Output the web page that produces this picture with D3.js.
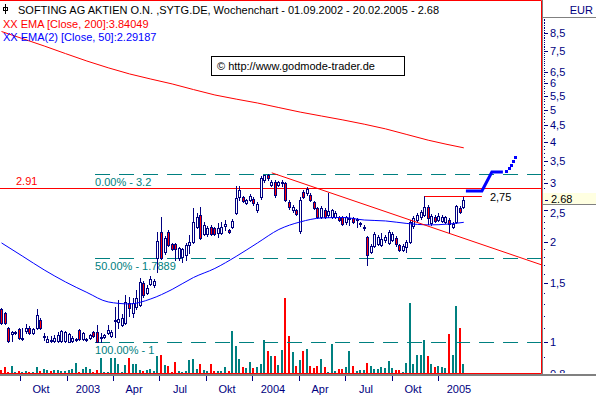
<!DOCTYPE html>
<html>
<head>
<meta charset="utf-8">
<script src="https://cdn.jsdelivr.net/npm/d3@7"></script>
<style>
  body { margin: 0; background: #fff; }
  svg { display: block; font-family: "Liberation Sans", Arial, sans-serif; font-size: 11px; }
</style>
</head>
<body>
<svg id="chart" width="596" height="397"></svg>
<script>
// weekly candles, first week ends 25.08.2002
const firstWeek = new Date(2002, 7, 25)

const opens = [1.258,1.223,1.102,1.057,1.065,1.094,1.021,1.080,1.102,1.065,
  1.102,1.165,1.035,1.000,1.014,1.007,1.007,1.007,1.007,1.000,
  1.007,1.014,1.087,1.021,1.014,1.028,1.072,1.072,1.028,1.035,
  1.065,1.043,1.157,1.149,1.125,1.141,1.311,1.223,1.275,1.293,
  1.506,1.406,1.496,1.485,1.791,2.144,1.867,2.144,1.973,1.973,
  1.791,1.803,1.829,1.960,2.001,2.220,2.412,2.114,2.114,2.220,
  2.204,2.129,2.129,2.235,2.174,2.220,2.445,2.731,2.731,2.620,
  2.675,2.694,2.497,2.731,3.073,3.181,2.968,3.030,2.968,3.009,
  3.009,2.638,2.497,2.497,2.159,2.827,2.808,2.769,2.638,2.531,
  2.379,2.497,2.412,2.379,2.379,2.379,2.379,2.298,2.346,2.362,
  2.329,2.266,2.204,2.071,1.867,1.946,1.973,1.960,2.028,1.987,
  2.028,2.057,1.960,1.893,1.933,2.001,2.235,2.329,2.379,2.412,
  2.549,2.282,2.379,2.329,2.314,2.298,2.329,2.220,2.298,2.531,
  2.549]
const highs = [1.267,1.232,1.110,1.080,1.080,1.102,1.102,1.133,1.118,1.102,
  1.258,1.181,1.065,1.043,1.043,1.050,1.072,1.087,1.080,1.065,
  1.043,1.028,1.094,1.072,1.028,1.057,1.080,1.125,1.065,1.057,
  1.125,1.087,1.275,1.339,1.215,1.386,1.367,1.357,1.435,1.559,
  1.527,1.485,1.581,1.548,2.144,2.379,2.085,2.174,1.987,1.987,
  1.933,1.919,1.987,2.100,2.531,2.445,2.549,2.298,2.235,2.251,
  2.220,2.282,2.298,2.329,2.189,2.346,2.948,2.948,2.750,2.694,
  2.789,2.731,2.638,3.159,3.180,3.200,3.073,3.073,3.051,3.073,
  3.030,2.675,2.584,2.514,2.731,2.867,2.927,2.808,2.656,2.549,
  2.566,2.531,2.808,2.514,2.479,2.395,2.395,2.395,2.445,2.379,
  2.362,2.298,2.251,2.085,1.973,2.144,2.100,2.129,2.100,2.174,
  2.144,2.085,1.973,1.973,2.028,2.329,2.395,2.445,2.497,2.750,
  2.584,2.428,2.412,2.445,2.412,2.395,2.362,2.298,2.584,2.566,
  2.731]
const lows = [1.133,1.133,1.000,1.007,1.057,1.021,1.014,1.065,1.057,1.057,
  1.094,1.094,1.014,1.000,1.000,1.000,1.000,1.000,1.000,1.000,
  1.000,1.007,1.014,1.014,1.007,1.021,1.035,1.000,1.000,1.028,
  1.057,1.035,1.035,1.102,1.118,1.133,1.198,1.190,1.258,1.284,
  1.367,1.396,1.485,1.465,1.625,1.779,1.841,1.946,1.893,1.766,
  1.766,1.742,1.766,1.854,1.987,2.204,2.042,2.100,2.085,2.100,
  2.100,2.071,2.114,2.174,2.129,2.204,2.428,2.675,2.638,2.602,
  2.656,2.584,2.462,2.694,3.030,3.073,2.948,2.731,2.948,2.948,
  2.656,2.514,2.462,2.412,2.129,2.713,2.769,2.656,2.514,2.362,
  2.362,2.362,2.379,2.362,2.362,2.314,2.251,2.266,2.251,2.282,
  2.220,2.235,2.174,1.706,1.854,1.933,1.960,1.946,2.001,1.973,
  2.015,1.946,1.880,1.880,1.867,1.987,2.204,2.298,2.346,2.395,
  2.266,2.251,2.298,2.314,2.298,2.282,2.129,2.204,2.282,2.445,
  2.531]
const closes = [1.141,1.141,1.007,1.072,1.072,1.028,1.028,1.102,1.065,1.094,
  1.206,1.102,1.043,1.021,1.007,1.028,1.050,1.080,1.072,1.057,
  1.028,1.021,1.021,1.065,1.021,1.050,1.043,1.000,1.035,1.050,
  1.087,1.072,1.165,1.173,1.181,1.320,1.267,1.311,1.357,1.516,
  1.386,1.455,1.548,1.527,2.015,1.791,2.057,1.960,1.906,1.906,
  1.919,1.906,1.960,2.001,2.298,2.379,2.057,2.251,2.204,2.114,
  2.114,2.204,2.220,2.266,2.144,2.314,2.713,2.867,2.656,2.675,
  2.750,2.620,2.602,3.115,3.181,3.115,3.030,2.769,3.030,3.030,
  2.675,2.549,2.549,2.428,2.675,2.731,2.887,2.675,2.531,2.379,
  2.531,2.379,2.479,2.497,2.445,2.329,2.266,2.379,2.362,2.298,
  2.346,2.282,2.220,1.829,1.946,2.114,2.071,2.042,2.071,2.144,
  2.114,1.973,1.893,1.946,2.001,2.298,2.362,2.412,2.462,2.549,
  2.362,2.395,2.314,2.395,2.379,2.379,2.266,2.266,2.566,2.462,
  2.680]
// volume in 1000 shares
const volumes = [27,60,10,67,10,20,10,20,10,10,
  60,20,43,33,20,27,27,20,20,27,
  43,100,10,43,60,43,10,27,153,10,
  10,153,153,93,10,77,153,93,93,27,
  20,27,43,20,167,177,77,67,10,110,
  20,10,20,133,143,43,93,33,20,93,
  20,20,20,60,20,420,270,140,60,50,
  110,50,60,90,330,220,170,170,80,230,
  750,370,210,70,130,220,240,70,50,70,
  140,60,10,290,20,40,40,60,220,70,
  20,30,30,100,70,40,40,60,50,120,
  50,30,30,10,100,700,90,180,180,330,
  170,90,60,70,60,50,390,180,670,450,
  90]

const ema200Weeks = [0, 12, 24, 36, 48, 60, 72, 84, 96, 108, 120, 130]
const ema200 = [8.60, 7.78, 7.01, 6.41, 5.98, 5.54, 5.24, 4.92, 4.66, 4.38, 4.05, 3.84049]
const ema50Weeks = [0, 6, 12, 18, 24, 30, 36, 42, 48, 54, 60, 66, 72, 78, 84, 90, 96, 102, 108, 114, 120, 126, 130]
const ema50 = [1.987, 1.81, 1.648, 1.516, 1.41, 1.32, 1.302, 1.348, 1.44, 1.564, 1.665, 1.81,
  1.987, 2.181, 2.298, 2.362, 2.37, 2.329, 2.314, 2.274, 2.251, 2.266, 2.29187]

const priceTicks = [0.8, 1, 1.5, 2, 2.5, 3, 3.5, 4, 4.5, 5, 5.5, 6, 6.5, 7.5, 8.5]
const monthNames = ['Jan', 'Feb', 'Mär', 'Apr', 'Mai', 'Jun', 'Jul', 'Aug', 'Sep', 'Okt', 'Nov', 'Dez']
const fibLabels = ['0.00% - 3.2', '50.00% - 1.7889', '100.00% - 1']
const fibValues = [3.2, 1.7889, 1]
const fibStartWeek = 26.3
const supportValue = 2.91
const lastPrice = 2.68
const trendWeeks = [76, 152]
const trendValues = [3.23, 1.705]
const highWeeks = [119, 135.1]
const highValue = 2.75
const projWeeks = [130.6, 135.1, 137.9, 141]
const projValues = [2.85, 2.85, 3.25, 3.25]
const dotWeeks = [142, 142.8, 143.3, 143.8, 144.4]
const dotValues = [3.26, 3.34, 3.42, 3.5, 3.6]

const navy = '#000080', teal = '#008080', red = '#ff0000', blue = '#0000ff'
const plotRight = 541, plotBottom = 373

const svg = d3.select('#chart')

const weekDate = i => new Date(+firstWeek + i * 7 * 864e5)
const x = d3.scaleTime()
  .domain([new Date(2002, 7, 22), new Date(2005, 6, 24)])
  .range([0, 542])
const xw = i => x(weekDate(i))
const y = d3.scaleLog().domain([0.8066, 10.7]).range([plotBottom, 0])
const yVol = d3.scaleLinear().domain([0, 800]).range([plotBottom, 293])
const crisp = v => Math.round(y(v)) + 0.5

const candles = opens.map((o, i) => ({ i, o, h: highs[i], l: lows[i], c: closes[i], v: volumes[i] }))

svg.append('defs').append('clipPath').attr('id', 'plotclip')
  .append('rect').attr('x', 0).attr('y', 0).attr('width', plotRight).attr('height', plotBottom)
svg.append('defs').append('clipPath').attr('id', 'axisclip')
  .append('rect').attr('x', 542).attr('y', 18).attr('width', 54).attr('height', 355)

let plot = svg.append('g').attr('clip-path', 'url(#plotclip)')

// volume
plot.append('g').selectAll('rect').data(candles).join('rect')
  .attr('x', d => Math.floor(xw(d.i)) - 1)
  .attr('y', d => Math.round(yVol(d.v)))
  .attr('width', 2)
  .attr('height', d => plotBottom - Math.round(yVol(d.v)))
  .attr('fill', d => d.c >= d.o ? teal : red)

// fibonacci levels
let fib = plot.append('g')
fib.selectAll('line').data(fibValues).join('line')
  .attr('x1', xw(fibStartWeek)).attr('x2', plotRight)
  .attr('y1', d => crisp(d)).attr('y2', d => crisp(d))
  .attr('stroke', teal).attr('stroke-dasharray', '15,9')
fib.selectAll('text').data(fibValues).join('text')
  .attr('x', xw(fibStartWeek)).attr('y', d => Math.round(y(d)) + 12)
  .attr('fill', teal)
  .text((d, i) => fibLabels[i])

// horizontal support 2.91
plot.append('line')
  .attr('x1', 0).attr('x2', plotRight)
  .attr('y1', crisp(supportValue)).attr('y2', crisp(supportValue))
  .attr('stroke', red)
plot.append('text').attr('x', 16).attr('y', Math.round(y(supportValue)) - 3)
  .attr('fill', red).text(supportValue.toFixed(2))

// candles
let cg = plot.append('g').selectAll('g').data(candles).join('g')
cg.append('rect')
  .attr('x', d => Math.floor(xw(d.i)))
  .attr('y', d => Math.round(y(d.h)))
  .attr('width', 1)
  .attr('height', d => Math.round(y(d.l)) - Math.round(y(d.h)) + 1)
  .attr('fill', navy)
cg.append('rect')
  .attr('x', d => Math.floor(xw(d.i)) - 0.5)
  .attr('y', d => Math.round(y(Math.max(d.o, d.c))) + 0.5)
  .attr('width', 2)
  .attr('height', d => Math.max(1, Math.round(y(Math.min(d.o, d.c))) - Math.round(y(Math.max(d.o, d.c)))))
  .attr('fill', d => d.c >= d.o ? '#fff' : red)
  .attr('stroke', navy)

// moving averages
let emaLine = d3.line().x(d => xw(d[0])).y(d => y(d[1])).curve(d3.curveMonotoneX)
plot.append('path').datum(d3.zip(ema200Weeks, ema200))
  .attr('d', emaLine).attr('fill', 'none').attr('stroke', red)
plot.append('path').datum(d3.zip(ema50Weeks, ema50))
  .attr('d', emaLine).attr('fill', 'none').attr('stroke', blue)

// trend line
let straight = d3.line().x(d => xw(d[0])).y(d => y(d[1]))
plot.append('path').datum(d3.zip(trendWeeks, trendValues))
  .attr('d', straight).attr('fill', 'none').attr('stroke', red)

// high 2,75
plot.append('line')
  .attr('x1', xw(highWeeks[0])).attr('x2', xw(highWeeks[1]))
  .attr('y1', crisp(highValue)).attr('y2', crisp(highValue))
  .attr('stroke', red)
plot.append('text').attr('x', xw(highWeeks[1]) + 8).attr('y', Math.round(y(highValue)) + 5)
  .attr('fill', '#000').text(String(highValue).replace('.', ','))

// projection
plot.append('path').datum(d3.zip(projWeeks, projValues))
  .attr('d', straight).attr('fill', 'none').attr('stroke', blue).attr('stroke-width', 3)
plot.append('g').selectAll('rect').data(d3.zip(dotWeeks, dotValues)).join('rect')
  .attr('x', d => Math.round(xw(d[0])) - 1)
  .attr('y', d => Math.round(y(d[1])) - 1)
  .attr('width', 3).attr('height', 3)
  .attr('fill', blue)

// copyright box
svg.append('rect').attr('x', 211.5).attr('y', 56.5).attr('width', 193).attr('height', 19)
  .attr('fill', '#fff').attr('stroke', '#000')
svg.append('text').attr('x', 217).attr('y', 70).attr('fill', '#000')
  .text('© http://www.godmode-trader.de')

// legend
svg.append('rect').attr('x', 3.5).attr('y', 7.5).attr('width', 4).attr('height', 3)
  .attr('fill', 'none').attr('stroke', '#000')
svg.append('line').attr('x1', 5.5).attr('x2', 5.5).attr('y1', 4).attr('y2', 14).attr('stroke', '#000')
svg.append('text').attr('x', 18).attr('y', 13.5).attr('fill', '#000')
  .text('SOFTING AG AKTIEN O.N. ,SYTG.DE, Wochenchart - 01.09.2002 - 20.02.2005 - 2.68')
svg.append('text').attr('x', 3).attr('y', 27.5).attr('fill', red)
  .text('XX EMA [Close, 200]:3.84049')
svg.append('text').attr('x', 3).attr('y', 40.5).attr('fill', blue)
  .text('XX EMA(2) [Close, 50]:2.29187')

// frame: top, right, bottom
svg.append('path')
  .attr('d', `M0,0.5H${plotRight + 0.5}V${plotBottom + 0.5}H0`)
  .attr('fill', 'none').attr('stroke', red)

// right axis
svg.append('line').attr('x1', 542.5).attr('x2', 542.5).attr('y1', 0).attr('y2', 375).attr('stroke', '#808080')
svg.append('line').attr('x1', 543).attr('x2', 596).attr('y1', 17.5).attr('y2', 17.5).attr('stroke', '#808080')
svg.append('text').attr('x', 593).attr('y', 14).attr('text-anchor', 'end').attr('fill', navy).text('EUR')

let axis = svg.append('g').attr('clip-path', 'url(#axisclip)')
axis.selectAll('rect.minor').data(d3.range(9, 95).map(k => k / 10)).join('rect')
  .attr('class', 'minor')
  .attr('x', 544).attr('y', d => Math.round(y(d)))
  .attr('width', 1).attr('height', 1).attr('fill', navy)
let yLast = Math.round(y(lastPrice))
let ticks = axis.selectAll('g.tick').data(priceTicks).join('g').attr('class', 'tick')
ticks.append('line')
  .attr('x1', 545).attr('x2', 548)
  .attr('y1', d => crisp(d)).attr('y2', d => crisp(d))
  .attr('stroke', navy)
ticks.append('text')
  .attr('x', 550)
  .attr('y', d => Math.abs(y(d) - yLast) < 13 ? yLast + 13 : y(d))
  .attr('dy', '0.36em')
  .attr('fill', navy)
  .text(d => String(d).replace('.', ','))

axis.append('rect').attr('x', 543).attr('y', yLast - 7).attr('width', 53).attr('height', 11)
  .attr('fill', '#ffffe1')
axis.append('line').attr('x1', 543).attr('x2', 596).attr('y1', yLast + 4.5).attr('y2', yLast + 4.5)
  .attr('stroke', '#808080')
axis.append('line').attr('x1', 545).attr('x2', 548).attr('y1', yLast + 0.5).attr('y2', yLast + 0.5)
  .attr('stroke', navy)
axis.append('text').attr('x', 551).attr('y', yLast).attr('dy', '0.3em').attr('fill', '#000')
  .text(lastPrice.toFixed(2))

// time axis
svg.append('rect').attr('x', 0).attr('y', 374).attr('width', 596).attr('height', 2).attr('fill', '#808080')
let months = d3.timeMonth.every(3).range(new Date(2002, 8, 1), weekDate(opens.length - 1))
let xt = svg.append('g').selectAll('g').data(months).join('g')
xt.append('line')
  .attr('x1', d => Math.round(x(d)) + 0.5).attr('x2', d => Math.round(x(d)) + 0.5)
  .attr('y1', 376).attr('y2', 381)
  .attr('stroke', navy)
xt.append('text')
  .attr('x', d => Math.round(x(d)) + 21).attr('y', 393)
  .attr('text-anchor', 'middle').attr('fill', navy)
  .text(d => d.getMonth() === 0 ? d.getFullYear() : monthNames[d.getMonth()])
</script>
</body>
</html>
